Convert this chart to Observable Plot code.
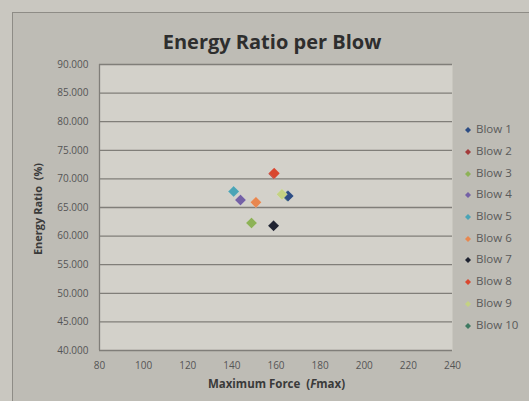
<!DOCTYPE html>
<html><head><meta charset="utf-8">
<script src="https://cdn.jsdelivr.net/npm/d3@7"></script>
<script src="https://cdn.jsdelivr.net/npm/@observablehq/plot@0.6"></script>
<style>
html,body{margin:0;padding:0;background:#c9c7c0;}
#wrap{position:relative;width:529px;height:401px;overflow:hidden;background:#c9c7c0;font-family:"Open Sans",sans-serif;}
#panel{position:absolute;left:12px;top:12px;width:530px;height:400px;background:#bebcb5;border-left:1.5px solid #8e8c86;border-top:1.5px solid #8e8c86;}
#chart{position:absolute;left:0;top:0;}
#title{position:absolute;left:0;width:544px;top:29px;text-align:center;font-weight:bold;font-size:20px;line-height:26px;color:#2e2e2e;}
#xtitle{position:absolute;left:0;width:553px;top:376px;text-align:center;font-weight:bold;font-size:11.5px;line-height:16px;color:#3a3a3a;}
#ytitle{position:absolute;left:38px;top:209px;transform:translate(-50%,-50%) rotate(-90deg);white-space:nowrap;font-weight:bold;font-size:11px;line-height:14px;color:#3a3a3a;}
.lg{position:absolute;left:464px;font-size:11.5px;line-height:16px;color:#5a5a5a;white-space:nowrap;}
.lg svg{vertical-align:middle;margin-right:4px;}
</style>
</head><body>
<div id="wrap">
  <div id="panel"></div>
  <div id="chart"></div>
  <div id="title">Energy Ratio per Blow</div>
  <div id="ytitle">Energy Ratio&nbsp; (%)</div>
  <div id="xtitle">Maximum Force&nbsp; (<i>F</i>max)</div>
  <div id="legend"></div>
</div>
<script>
const blows = ["Blow 1","Blow 2","Blow 3","Blow 4","Blow 5","Blow 6","Blow 7","Blow 8","Blow 9","Blow 10"];
const force = [165.5, 159.0, 148.9, 143.9, 140.8, 150.9, 158.9, 159.2, 162.7, 165.2];
const ratio = [67.0, 70.9, 62.3, 66.3, 67.8, 65.9, 61.8, 71.0, 67.3, 67.0];
const colors = ["#2d4d84","#a33b3b","#8db257","#7461a6","#4aa4b6","#e8874f","#1f2331","#d9472f","#c4d283","#3f7a62"];
const drawOrder = [9,0,1,2,3,4,5,6,7,8];
const yTicks = [40,45,50,55,60,65,70,75,80,85,90];
const xTicks = [80,100,120,140,160,180,200,220,240];

const data = drawOrder.map(i => ({blow: blows[i], f: force[i], r: ratio[i]}));

const chart = Plot.plot({
  width: 529, height: 401,
  marginLeft: 99, marginRight: 77, marginTop: 64, marginBottom: 51,
  style: {background: "transparent", fontFamily: "'Open Sans', sans-serif", fontSize: "10px", color: "#555"},
  x: {domain: [80, 240], ticks: xTicks, tickSize: 0, tickPadding: 11, label: null},
  y: {domain: [40, 90], ticks: yTicks, tickSize: 0, tickPadding: 11, label: null, tickFormat: d3.format(".3f")},
  color: {domain: blows, range: colors},
  marks: [
    Plot.frame({fill: "#d3d1ca", stroke: null}),
    Plot.ruleY(yTicks, {stroke: "#807e79", strokeWidth: 1.3}),
    Plot.ruleX([80], {stroke: "#807e79", strokeWidth: 1.3}),
    Plot.dot(data, {x: "f", y: "r", fill: "blow", symbol: "diamond2", r: 5, stroke: "#ffffff", strokeOpacity: 0.25, strokeWidth: 0.6})
  ]
});
document.getElementById("chart").appendChild(chart);

const lg = document.getElementById("legend");
const legendTop = [129, 151, 173, 194, 216, 238, 259, 281, 303, 325];
blows.forEach((b, i) => {
  const d = document.createElement("div");
  d.className = "lg";
  d.style.top = (legendTop[i] - 8) + "px";
  d.innerHTML = `<svg width="8" height="8" viewBox="-4 -4 8 8"><path d="M0,-3L3,0L0,3L-3,0Z" fill="${colors[i]}"/></svg>${b}`;
  lg.appendChild(d);
});
</script>
</body></html>
